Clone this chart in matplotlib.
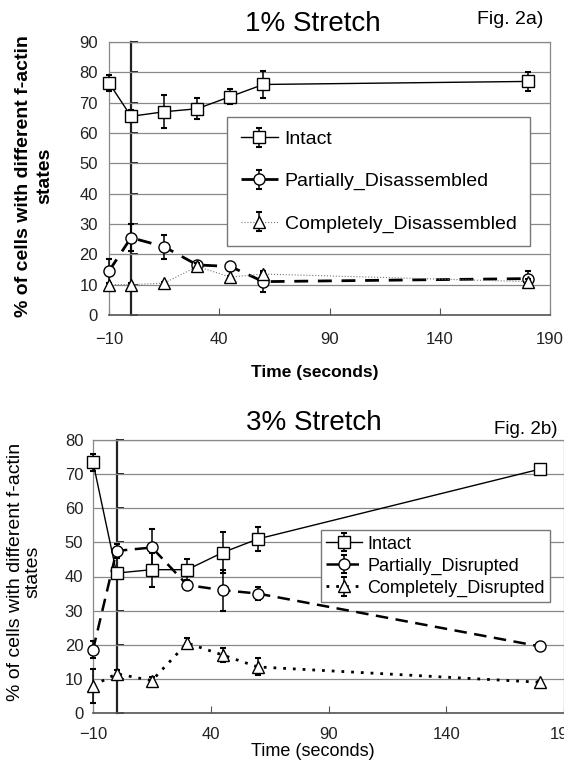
import numpy as np
import matplotlib.pyplot as plt

plt.rcParams['font.family'] = ['Liberation Sans', 'DejaVu Sans']

# time points (seconds)
t = [-10, 0, 15, 30, 45, 60, 180]

# Fig 2a) 1% stretch
intact_1 = [76.5, 65.5, 67, 68, 72, 76, 77]
intact_1_err = [2.5, 2, 5.5, 3.5, 2.5, 4.5, 3]
partial_1 = [14.5, 25.5, 22.5, 16.5, 16, 11, 12]
partial_1_err = [4, 4.5, 4, 1, 1.5, 3.5, 2.5]
complete_1 = [10, 10, 10.5, 16, 12.5, 13.5, 11]
complete_1_err = [0.5, 0.5, 0.5, 1, 0.5, 0.5, 1]

# Fig 2b) 3% stretch
intact_3 = [73.5, 41, 42, 42, 47, 51, 71.5]
intact_3_err = [2.5, 1, 5, 3, 6, 3.5, 0.5]
partial_3 = [18.5, 47.5, 48.5, 37.5, 36, 35, 19.5]
partial_3_err = [2.5, 2, 5.5, 1, 6, 2, 0.5]
complete_3 = [8, 11.5, 9.5, 20.5, 17, 13.5, 9]
complete_3_err = [5, 1, 1, 1.5, 2, 2.5, 0.5]

xticks = [-10, 40, 90, 140, 190]
ylab = '% of cells with different f-actin\nstates'

W, H = 564, 762
fig = plt.figure(figsize=(W / 100, H / 100), dpi=100)


def setup(ax, ymax, xpad, ypad):
    ax.set_xlim(-10, 190)
    ax.set_ylim(0, ymax)
    ax.set_xticks(xticks)
    ax.set_yticks(np.arange(0, ymax + 1, 10))
    ax.grid(axis='y', color='#888888', lw=0.9)
    ax.set_axisbelow(True)
    for s in ['top', 'right', 'left']:
        ax.spines[s].set_color('#888888')
        ax.spines[s].set_linewidth(0.9)
    ax.spines['bottom'].set_color('#555555')
    ax.spines['bottom'].set_linewidth(1.2)
    ax.tick_params(axis='x', direction='in', length=5, color='#555555',
                   labelsize=12, pad=xpad, labelcolor='#222222')
    ax.tick_params(axis='y', length=0, labelsize=12, pad=ypad,
                   labelcolor='#222222')
    # y axis crossing at x=0
    sec = ax.secondary_yaxis(0, transform=ax.transData)
    sec.set_yticks(np.arange(0, ymax + 1, 10))
    sec.tick_params(direction='in', length=5, width=1.2, labelleft=False)
    sec.spines['left'].set_linewidth(1.6)
    sec.spines['left'].set_color('#222222')


def noclip(cont):
    for a in cont.get_children():
        a.set_clip_on(False)


eb = dict(mfc='white', mec='black', ecolor='black', elinewidth=1.1,
          capsize=2.5, capthick=1.5, color='black')

# ---- top panel ----
ax1 = fig.add_axes([109 / W, 1 - 315 / H, 441 / W, 273 / H])
setup(ax1, 90, 12, 8)
c = ax1.errorbar(t, intact_1, yerr=intact_1_err, marker='s', ms=8, lw=1.0,
                 label='Intact', zorder=5, **eb)
noclip(c)
c = ax1.errorbar(t, partial_1, yerr=partial_1_err, marker='o', ms=8, lw=2.0,
                 dashes=(5, 3.5), label='Partially_Disassembled', zorder=4, **eb)
noclip(c)
eb_c = dict(eb)
eb_c['color'] = '#777777'
c = ax1.errorbar(t, complete_1, yerr=complete_1_err, marker='^', ms=9, lw=0.8,
                 ls=':', label='Completely_Disassembled', zorder=6, **eb_c)
noclip(c)
ax1.legend(loc='upper left', bbox_to_anchor=(0.268, 0.725), fontsize=14,
           labelspacing=1.25, borderpad=0.7, handlelength=1.9,
           handletextpad=0.35, fancybox=False, framealpha=1,
           edgecolor='#777777', borderaxespad=0)
fig.text(315 / W, 1 - 372 / H, 'Time (seconds)', fontsize=12.5,
         fontweight='bold', ha='center', va='center')
fig.text(34 / W, 1 - 176 / H, ylab, fontsize=14, fontweight='bold',
         rotation=90, ha='center', va='center', multialignment='center',
         linespacing=1.3)
fig.text(313 / W, 1 - 24 / H, '1% Stretch', fontsize=20, ha='center',
         va='center')
fig.text(510 / W, 1 - 19 / H, 'Fig. 2a)', fontsize=14, ha='center',
         va='center')

# ---- bottom panel ----
ax2 = fig.add_axes([93 / W, 1 - 713 / H, 471 / W, 273 / H])
setup(ax2, 80, 10, 7)
c = ax2.errorbar(t, intact_3, yerr=intact_3_err, marker='s', ms=8, lw=1.0,
                 label='Intact', zorder=5, **eb)
noclip(c)
c = ax2.errorbar(t, partial_3, yerr=partial_3_err, marker='o', ms=8, lw=1.8,
                 dashes=(5, 3), label='Partially_Disrupted', zorder=4, **eb)
noclip(c)
c = ax2.errorbar(t, complete_3, yerr=complete_3_err, marker='^', ms=9, lw=2.0,
                 dashes=(1, 2.5), label='Completely_Disrupted', zorder=6, **eb)
noclip(c)
ax2.legend(loc='upper left', bbox_to_anchor=(0.484, 0.67), fontsize=13,
           labelspacing=0.28, borderpad=0.3, handlelength=1.95,
           handletextpad=0.3, fancybox=False, framealpha=1,
           edgecolor='#777777', borderaxespad=0)
fig.text(313 / W, 1 - 752 / H, 'Time (seconds)', fontsize=13, ha='center',
         va='center')
fig.text(24 / W, 1 - 572 / H, ylab, fontsize=14, rotation=90, ha='center',
         va='center', multialignment='center', linespacing=1.05)
fig.text(314 / W, 1 - 423 / H, '3% Stretch', fontsize=20, ha='center',
         va='center')
fig.text(526 / W, 1 - 429 / H, 'Fig. 2b)', fontsize=13.5, ha='center',
         va='center')

fig.savefig('out.png', dpi=100)
